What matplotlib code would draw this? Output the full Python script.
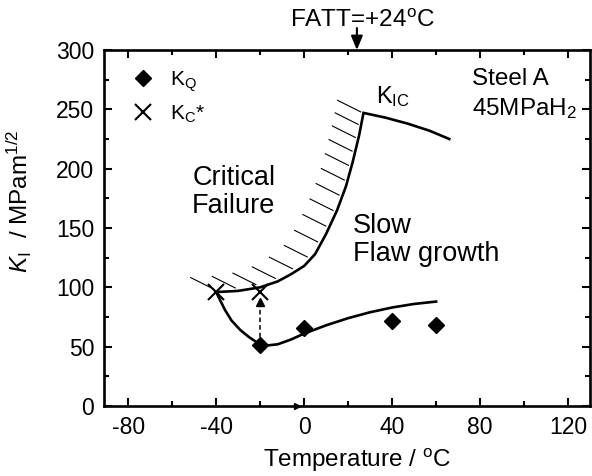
import numpy as np
import matplotlib
matplotlib.use('Agg')
import matplotlib.pyplot as plt
from matplotlib.lines import Line2D

plt.rcParams.update({
    'font.family': 'Liberation Sans',
    'mathtext.fontset': 'custom',
    'mathtext.rm': 'Liberation Sans',
    'mathtext.it': 'Liberation Sans:italic',
    'mathtext.bf': 'Liberation Sans:bold',
    'axes.linewidth': 1.9,
    'axes.unicode_minus': False,
})

# measured threshold values
t_kq = [-20, 0, 40, 60]
k_kq = [51, 66, 72, 68]
t_kc = [-40, -20]
k_kc = [96, 96]

# critical failure boundary, rising up to K_IC
t_crit = [-40, -30, -20, -12, -6, 0, 5, 10, 15, 19, 22, 25, 27]
k_crit = [96, 97, 100, 105, 111, 118, 128, 145, 165, 185, 205, 228, 247]

# K_IC branch
t_kic = [27, 37, 47, 57, 66]
k_kic = [247, 243, 238, 232, 225]

# slow flaw growth threshold
t_thr = [-40, -36, -33, -29, -25, -21, -17, -12, -6, 0, 10, 20, 30, 40, 50, 60]
k_thr = [96, 81, 72, 64, 58, 53, 51, 52, 56, 61, 68, 74, 79, 83, 86, 88]

fatt = 24
x_ticks = [-80, -40, 0, 40, 80, 120]
y_ticks = [0, 50, 100, 150, 200, 250, 300]

fig = plt.figure(figsize=(5.92, 4.76), dpi=100)
ax = fig.add_axes([104 / 592, 70 / 476, 486 / 592, 356 / 476])
ax.set_xlim(-91, 130)
ax.set_ylim(0, 300)
ax.set_xticks(x_ticks)
ax.set_xticks(np.arange(-80, 130, 20), minor=True)
ax.set_yticks(y_ticks)
ax.set_yticks(np.arange(0, 301, 25), minor=True)
ax.tick_params(which='both', direction='in', top=True, right=True,
               labelsize=16.5, pad=7, width=1.5)
ax.tick_params(which='major', length=6)
ax.tick_params(which='minor', length=3.5)

# boundary curves
ax.plot(t_crit + t_kic[1:], k_crit + k_kic[1:], color='k', lw=1.9,
        solid_joinstyle='miter')
ax.plot(t_thr, k_thr, color='k', lw=1.9, solid_joinstyle='round')

# hatching on the critical failure side of the boundary
pts = ax.transData.transform(np.column_stack([t_crit, k_crit]))
seg = np.hypot(*np.diff(pts, axis=0).T)
arc = np.concatenate([[0], np.cumsum(seg)])
n_hatch = 16
steps = np.linspace(22, 13, n_hatch - 1)
steps *= (arc[-1] - 2) / steps.sum()
anchors = np.concatenate([[0], np.cumsum(steps)])
inv = ax.transData.inverted()
for s in anchors:
    px = np.interp(s, arc, pts[:, 0])
    py = np.interp(s, arc, pts[:, 1])
    p0 = np.array([px - 2.5, py + 3.0])
    p1 = p0 + np.array([-23, 11.5])
    d = inv.transform(np.vstack([p0, p1]))
    ax.plot(d[:, 0], d[:, 1], color='k', lw=0.8)

# dashed arrow from K_Q up to K_C*
ax.plot([-20, -20], [51, 86], color='k', lw=1.1, ls=(0, (3, 2)))
ax.plot(-20, 87.5, marker='^', ms=6, color='k', ls='none')

ax.plot(t_kq, k_kq, ls='none', marker='D', ms=8, color='k', zorder=5)
ax.plot(t_kc, k_kc, ls='none', marker='x', ms=12, mew=1.5, color='k', zorder=5)

# small mark on the bottom axis
ax.plot(-3.3, 0, marker='>', ms=4, color='k', clip_on=False, zorder=6)

# FATT marker above the frame
ax.annotate('', xy=(fatt, 300), xytext=(fatt, 318.5),
            arrowprops=dict(arrowstyle='-|>,head_length=0.6,head_width=0.25',
                            mutation_scale=14, color='k', lw=1.5,
                            shrinkA=0, shrinkB=0),
            annotation_clip=False)
ax.text(26.4, 319.3, r'FATT=+24$^\mathregular{o}$C', ha='center', va='baseline',
        fontsize=17.5, clip_on=False)

ax.text(-50.9, 186, 'Critical', fontsize=19.5, va='baseline')
ax.text(-50.9, 163, 'Failure', fontsize=19.5, va='baseline')
ax.text(22.3, 145.7, 'Slow', fontsize=19.5, va='baseline')
ax.text(22.3, 122.5, 'Flaw growth', fontsize=19.5, va='baseline')
ax.text(76.4, 270.8, 'Steel A', fontsize=17.5, va='baseline')
ax.text(76.4, 245, r'45MPa$\mathregular{H_2}$', fontsize=17.5, va='baseline')
ax.text(32.7, 255, r'$\mathregular{K_{IC}}$', fontsize=17, va='baseline')

handles = [
    Line2D([], [], ls='none', marker='D', ms=8, color='k'),
    Line2D([], [], ls='none', marker='x', ms=12, mew=1.5, color='k'),
]
ax.legend(handles, [r'$\mathregular{K_Q}$', r'$\mathregular{K_C}$*'],
          loc='upper left', bbox_to_anchor=(0.059, 0.945), frameon=False,
          fontsize=15, borderaxespad=0, borderpad=0, handlelength=1.0,
          handletextpad=0.8, labelspacing=0.45)

ax.set_xlabel(r'Temperature / $^\mathregular{o}$C', fontsize=17.5)
ax.set_ylabel(r'$K_\mathregular{I}$  / MPam$^\mathregular{1/2}$', fontsize=17.5)
ax.xaxis.set_label_coords(0.52, -0.115)
ax.yaxis.set_label_coords(-0.145, 0.576)

fig.savefig('out.png', dpi=100)
